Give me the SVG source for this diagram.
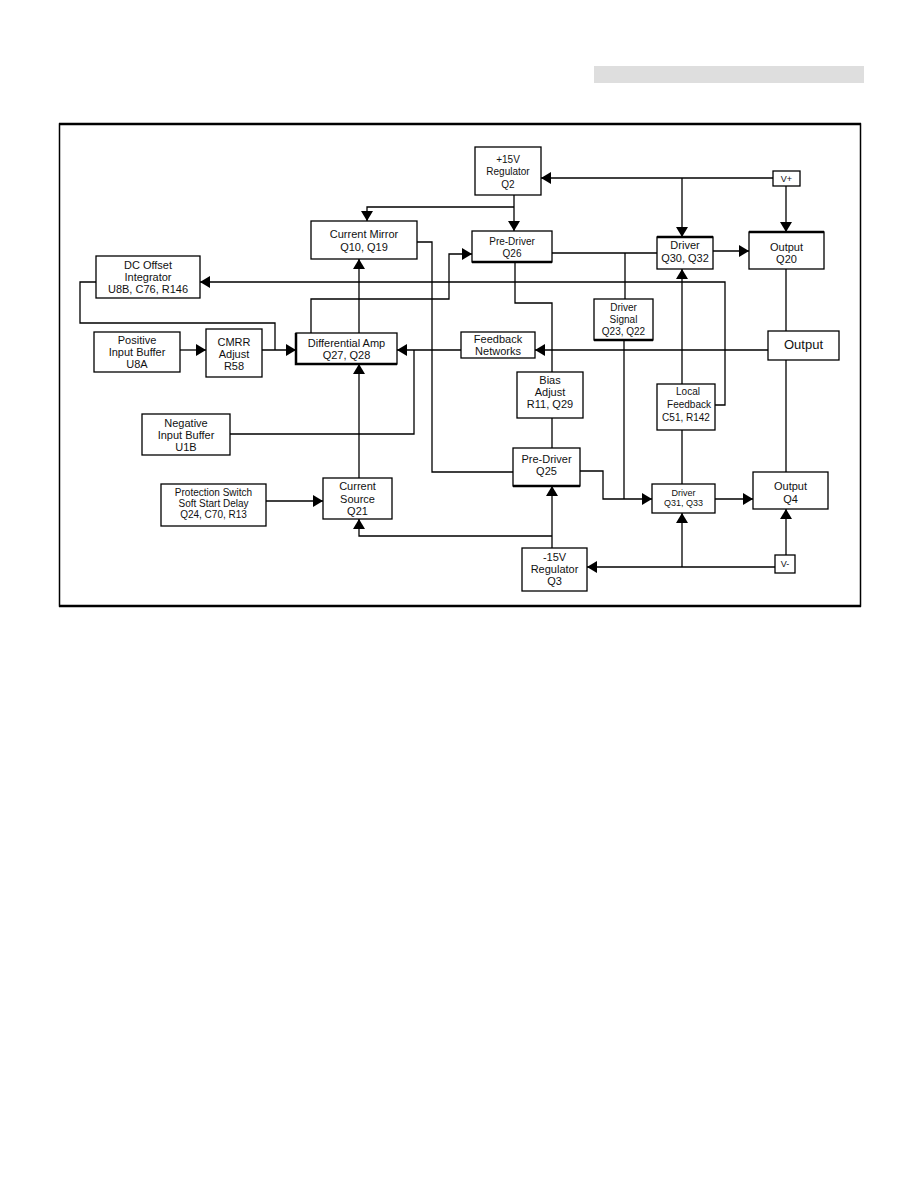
<svg xmlns="http://www.w3.org/2000/svg" width="918" height="1188" viewBox="0 0 918 1188">
<defs>
<marker id="ah" viewBox="0 0 10 12" refX="10" refY="6" markerWidth="10" markerHeight="12" markerUnits="userSpaceOnUse" orient="auto">
<path d="M0,0 L10,6 L0,12 Z" fill="#000"/>
</marker>
</defs>
<style>
rect.b{fill:#fff;stroke:#000;stroke-width:1.3}
.t{font-family:"Liberation Sans","DejaVu Sans",sans-serif;font-size:11px;fill:#111;text-anchor:middle}
.s{font-size:10px}
.xs{font-size:9px}
.l{font-size:13px}
#connectors path{fill:none;stroke:#000;stroke-width:1.3}
#connectors path.a{marker-end:url(#ah)}
.thick{stroke:#000;stroke-width:2.5;fill:none}
</style>
<rect width="918" height="1188" fill="#fff"/>
<rect x="594" y="66" width="270" height="17" fill="#dedede"/>
<rect x="59.5" y="124" width="801" height="482" fill="none" stroke="#000" stroke-width="1.5"/>
<path d="M59,124 H861 M59,606 H861" stroke="#000" stroke-width="2.5"/>

<g id="connectors">
<path class="a" d="M773,178 H541"/>
<path class="a" d="M682,178 V237"/>
<path class="a" d="M786,186 V232"/>
<path class="a" d="M514,195 V231"/>
<path class="a" d="M514,207 H367 V221"/>
<path class="a" d="M359,333 V259"/>
<path class="a" d="M311,333 V299 H449 V254 H472"/>
<path d="M552,253 H657"/>
<path class="a" d="M713,251 H749"/>
<path d="M625,253 V299"/>
<path d="M624,340 V499"/>
<path d="M515,262 V303 H552 V372"/>
<path d="M552,418 V448"/>
<path d="M417,242 H432 V472 H513"/>
<path class="a" d="M580,471 H603 V499 H652"/>
<path class="a" d="M552,548 V486"/>
<path class="a" d="M552,536 H359 V519"/>
<path class="a" d="M775,567 H587"/>
<path class="a" d="M682,567 V513"/>
<path class="a" d="M786,555 V509"/>
<path class="a" d="M715,499 H753"/>
<path class="a" d="M682,384 V269"/>
<path d="M682,430 V484"/>
<path class="a" d="M715,405 H725 V282 H200"/>
<path d="M96,282 H80 V323 H275 V350"/>
<path class="a" d="M180,350 H206"/>
<path class="a" d="M262,350 H296"/>
<path class="a" d="M461,350 H397"/>
<path class="a" d="M768,350 H535"/>
<path d="M230,434 H414 V350"/>
<path class="a" d="M266,501 H323"/>
<path class="a" d="M359,478 V364"/>
<path d="M786,269 V331 M786,360 V472"/>
</g>

<g id="reg15p">
<rect class="b" x="475" y="147" width="66" height="48"/>
<text class="t s" x="508" y="163">+15V</text>
<text class="t s" x="508" y="175">Regulator</text>
<text class="t s" x="508" y="188">Q2</text>
</g>
<g id="vplus">
<rect class="b" x="773" y="171" width="27" height="15"/>
<text class="t xs" x="786.5" y="182">V+</text>
</g>
<g id="curmirror">
<rect class="b" x="311" y="221" width="106" height="38"/>
<text class="t" x="364" y="238">Current Mirror</text>
<text class="t" x="364" y="251">Q10, Q19</text>
</g>
<g id="predriver26">
<rect class="b" x="472" y="231" width="80" height="31"/>
<path class="thick" d="M472,262 H552"/>
<text class="t s" x="512" y="245">Pre-Driver</text>
<text class="t s" x="512" y="257">Q26</text>
</g>
<g id="driver30">
<rect class="b" x="657" y="237" width="56" height="32"/>
<path class="thick" d="M657,237 H713"/>
<text class="t" x="685" y="249">Driver</text>
<text class="t" x="685" y="262">Q30, Q32</text>
</g>
<g id="output20">
<rect class="b" x="749" y="232" width="75" height="37"/>
<path class="thick" d="M749,232 H824"/>
<text class="t" x="786.5" y="251">Output</text>
<text class="t" x="786.5" y="263">Q20</text>
</g>
<g id="dcoffset">
<rect class="b" x="96" y="256" width="104" height="42"/>
<text class="t" x="148" y="269">DC Offset</text>
<text class="t" x="148" y="281">Integrator</text>
<text class="t" x="148" y="293">U8B, C76, R146</text>
</g>
<g id="drvsignal">
<rect class="b" x="594" y="299" width="59" height="41"/>
<path class="thick" d="M594,340 H653"/>
<text class="t s" x="623.5" y="311">Driver</text>
<text class="t s" x="623.5" y="323">Signal</text>
<text class="t s" x="623.5" y="335">Q23, Q22</text>
</g>
<g id="posbuf">
<rect class="b" x="94" y="332" width="86" height="40"/>
<text class="t" x="137" y="344">Positive</text>
<text class="t" x="137" y="356">Input Buffer</text>
<text class="t" x="137" y="368">U8A</text>
</g>
<g id="cmrr">
<rect class="b" x="206" y="329" width="56" height="48"/>
<text class="t" x="234" y="346">CMRR</text>
<text class="t" x="234" y="358">Adjust</text>
<text class="t" x="234" y="370">R58</text>
</g>
<g id="diffamp">
<rect class="b" x="296" y="333" width="101" height="31"/>
<path class="thick" d="M296,333 V364 H397"/>
<text class="t" x="346.5" y="347">Differential Amp</text>
<text class="t" x="346.5" y="359">Q27, Q28</text>
</g>
<g id="feedback">
<rect class="b" x="461" y="332" width="74" height="26"/>
<text class="t" x="498" y="343">Feedback</text>
<text class="t" x="498" y="355">Networks</text>
</g>
<g id="output">
<rect class="b" x="768" y="331" width="71" height="29"/>
<text class="t l" x="803.5" y="349">Output</text>
</g>
<g id="bias">
<rect class="b" x="517" y="372" width="66" height="46"/>
<text class="t" x="550" y="384">Bias</text>
<text class="t" x="550" y="396">Adjust</text>
<text class="t" x="550" y="408">R11, Q29</text>
</g>
<g id="localfb">
<rect class="b" x="657" y="384" width="58" height="46"/>
<text class="t s" x="688" y="395">Local</text>
<text class="t s" x="689" y="408">Feedback</text>
<text class="t s" x="686" y="421">C51, R142</text>
</g>
<g id="negbuf">
<rect class="b" x="142" y="414" width="88" height="41"/>
<text class="t" x="186" y="427">Negative</text>
<text class="t" x="186" y="439">Input Buffer</text>
<text class="t" x="186" y="451">U1B</text>
</g>
<g id="predriver25">
<rect class="b" x="513" y="448" width="67" height="38"/>
<path class="thick" d="M513,486 H580"/>
<text class="t" x="546.5" y="463">Pre-Driver</text>
<text class="t" x="546.5" y="475">Q25</text>
</g>
<g id="cursource">
<rect class="b" x="323" y="478" width="69" height="41"/>
<text class="t" x="357.5" y="490">Current</text>
<text class="t" x="357.5" y="503">Source</text>
<text class="t" x="357.5" y="515">Q21</text>
</g>
<g id="protection">
<rect class="b" x="161" y="484" width="105" height="42"/>
<text class="t s" x="213.5" y="496">Protection Switch</text>
<text class="t s" x="213.5" y="507">Soft Start Delay</text>
<text class="t s" x="213.5" y="518">Q24, C70, R13</text>
</g>
<g id="driver31">
<rect class="b" x="652" y="484" width="63" height="29"/>
<text class="t xs" x="683.5" y="496">Driver</text>
<text class="t xs" x="683.5" y="506">Q31, Q33</text>
</g>
<g id="output4">
<rect class="b" x="753" y="472" width="75" height="37"/>
<text class="t" x="790.5" y="490">Output</text>
<text class="t" x="790.5" y="503">Q4</text>
</g>
<g id="reg15n">
<rect class="b" x="522" y="548" width="65" height="43"/>
<text class="t" x="554.5" y="561">-15V</text>
<text class="t" x="554.5" y="573">Regulator</text>
<text class="t" x="554.5" y="585">Q3</text>
</g>
<g id="vminus">
<rect class="b" x="775" y="555" width="20" height="18"/>
<text class="t xs" x="785" y="567">V-</text>
</g>
</svg>
